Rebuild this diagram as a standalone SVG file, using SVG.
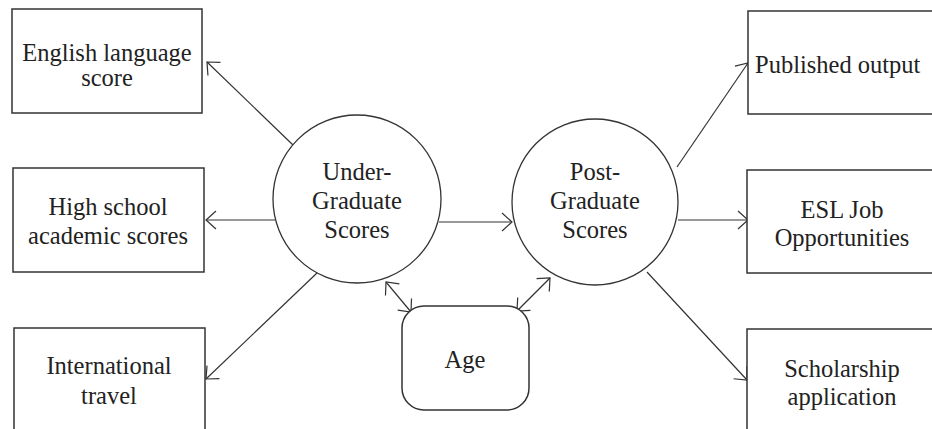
<svg xmlns="http://www.w3.org/2000/svg" width="932" height="429" viewBox="0 0 932 429">
<style>
.box{fill:#fff;stroke:#333;stroke-width:1.5}
.circ{fill:#fff;stroke:#333;stroke-width:1.3}
.lbl{font-family:"Liberation Serif","Times New Roman",serif;font-size:24.5px;fill:#222;text-anchor:middle}
.conn{fill:none;stroke:#333;stroke-width:1.2}
</style>
<defs>
<marker id="ah" viewBox="-12 -11 14 22" refX="0" refY="0" markerWidth="14" markerHeight="22" markerUnits="userSpaceOnUse" orient="auto-start-reverse">
<path d="M-10,-9 L0,0 L-10,9" fill="none" stroke="#333" stroke-width="1.2"/>
</marker>
</defs>
<rect width="932" height="429" fill="#fff"/>
<g id="connectors">
<line class="conn" x1="293" y1="145" x2="207" y2="62" marker-end="url(#ah)"/>
<line class="conn" x1="275" y1="220" x2="206" y2="220" marker-end="url(#ah)"/>
<line class="conn" x1="317" y1="273" x2="206" y2="379" marker-end="url(#ah)"/>
<line class="conn" x1="439" y1="222" x2="512" y2="222" marker-end="url(#ah)"/>
<line class="conn" x1="386" y1="282" x2="411" y2="312" marker-start="url(#ah)" marker-end="url(#ah)"/>
<line class="conn" x1="517" y1="311" x2="550" y2="278" marker-start="url(#ah)" marker-end="url(#ah)"/>
<line class="conn" x1="677" y1="167" x2="748" y2="63" marker-end="url(#ah)"/>
<line class="conn" x1="678" y1="220" x2="748" y2="220" marker-end="url(#ah)"/>
<line class="conn" x1="647" y1="272" x2="747" y2="380" marker-end="url(#ah)"/>
</g>
<g id="english">
<rect class="box" x="12" y="9" width="190" height="104"/>
<text class="lbl" x="107" y="61">English language</text>
<text class="lbl" x="107" y="86">score</text>
</g>
<g id="highschool">
<rect class="box" x="13" y="168" width="191" height="104"/>
<text class="lbl" x="108" y="215">High school</text>
<text class="lbl" x="108" y="244">academic scores</text>
</g>
<g id="international">
<rect class="box" x="14" y="328" width="191" height="110"/>
<text class="lbl" x="109" y="374">International</text>
<text class="lbl" x="109" y="404">travel</text>
</g>
<g id="undergrad">
<circle class="circ" cx="357" cy="199" r="84"/>
<text class="lbl" x="357" y="180">Under-</text>
<text class="lbl" x="357" y="209">Graduate</text>
<text class="lbl" x="357" y="238">Scores</text>
</g>
<g id="postgrad">
<circle class="circ" cx="595" cy="202" r="83"/>
<text class="lbl" x="595" y="180">Post-</text>
<text class="lbl" x="595" y="209">Graduate</text>
<text class="lbl" x="595" y="238">Scores</text>
</g>
<g id="age">
<rect class="box" x="402" y="306" width="127" height="104" rx="22" ry="22"/>
<text class="lbl" x="465" y="368">Age</text>
</g>
<g id="published">
<rect class="box" x="748" y="11" width="190" height="103"/>
<text class="lbl" x="755" y="73" style="text-anchor:start">Published output</text>
</g>
<g id="esl">
<rect class="box" x="747" y="170" width="190" height="103"/>
<text class="lbl" x="842" y="218">ESL Job</text>
<text class="lbl" x="842" y="246">Opportunities</text>
</g>
<g id="scholarship">
<rect class="box" x="747" y="329" width="190" height="110"/>
<text class="lbl" x="842" y="377">Scholarship</text>
<text class="lbl" x="842" y="405">application</text>
</g>
</svg>
